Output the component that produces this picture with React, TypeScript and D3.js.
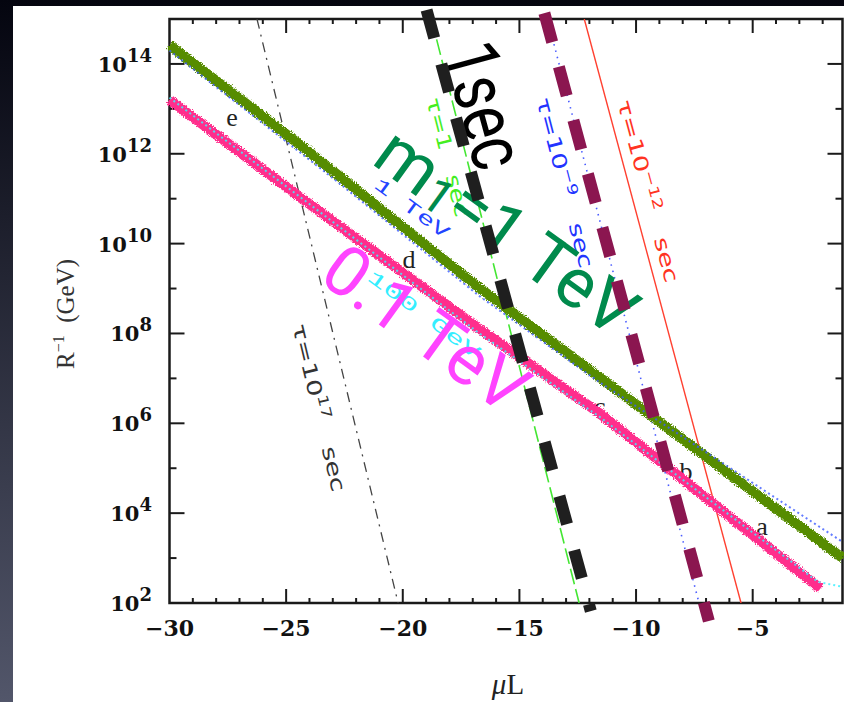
import React, { useEffect, useRef } from 'react';
import * as d3 from 'd3';

// axis ticks
const xTickValues = [-30, -25, -20, -15, -10, -5];
const yTickExps = [2, 4, 6, 8, 10, 12, 14];

// curves as [muL, log10(R^-1 / GeV)]
const band1TeV = [[-30, 14.42], [-24.41, 12.2], [-16.71, 9.01], [-11.58, 7.03], [-1.15, 3.0]];
const band100GeV = [[-30, 13.2], [-24.41, 11.04], [-16.71, 8.1], [-11.58, 6.23], [-2.1, 2.32]];
const dots1TeV = [[-30, 14.3], [-23.1, 11.5], [-16.71, 8.83], [-11.58, 6.92], [-1.15, 3.36]];
const dots100GeV = [[-30, 13.25], [-16.71, 8.0], [-11.58, 6.15], [-2.2, 2.47], [-1.15, 2.36]];

// lifetime contours
const tau17 = [[-26.25, 15], [-20.2, 2]];
const tau1 = [[-18.77, 15], [-12.44, 2]];
const tau9 = [[-13.8, 15], [-7.3, 2]];
const tau12 = [[-12.22, 15], [-5.5, 2]];

// hand drawn overlays
const line1sec = [[-18.98, 15.2], [-11.94, 1.82]];
const lineMaroon = [[-13.93, 15.13], [-6.88, 1.6]];

// region letters
const regionNames = ['a', 'b', 'c', 'd', 'e'];
const regionMuL = [-4.6, -7.86, -11.55, -19.73, -27.32];
const regionExp = [3.69, 4.92, 6.36, 9.64, 12.8];

const W = 844, H = 702;

export default function App() {
  const ref = useRef<SVGSVGElement>(null);

  useEffect(() => {
    const svg = d3.select(ref.current);
    svg.selectAll('*').remove();

    const x = d3.scaleLinear().domain([-30, -1.15]).range([169.5, 842.5]);
    const y = d3.scaleLog().domain([1e2, 1e15]).range([603, 19]);
    const px = (d: number[]) => x(d[0]);
    const py = (d: number[]) => y(Math.pow(10, d[1]));
    const line = d3.line<number[]>().x(px).y(py);
    const angleOf = (pts: number[][]) => {
      const a = pts[0], b = pts[pts.length - 1];
      return Math.atan2(py(b) - py(a), px(b) - px(a)) * 180 / Math.PI;
    };
    const at = (mu: number, e: number) => `translate(${x(mu)},${y(Math.pow(10, e))})`;

    const defs = svg.append('defs');
    const grad = defs.append('linearGradient').attr('id', 'bg')
      .attr('x1', 0).attr('y1', 0).attr('x2', 0).attr('y2', 1);
    grad.append('stop').attr('offset', '0%').attr('stop-color', '#04050f');
    grad.append('stop').attr('offset', '100%').attr('stop-color', '#52566a');

    const filt = defs.append('filter').attr('id', 'rough')
      .attr('x', '-5%').attr('y', '-5%').attr('width', '110%').attr('height', '110%');
    filt.append('feTurbulence').attr('type', 'fractalNoise').attr('baseFrequency', 0.9)
      .attr('numOctaves', 2).attr('seed', 4).attr('result', 'noise');
    filt.append('feDisplacementMap').attr('in', 'SourceGraphic').attr('in2', 'noise')
      .attr('scale', 5).attr('xChannelSelector', 'R').attr('yChannelSelector', 'G');

    defs.append('clipPath').attr('id', 'plot').append('rect')
      .attr('x', 169.5).attr('y', 19).attr('width', 673).attr('height', 584);

    // slide background + white picture
    svg.append('rect').attr('width', W).attr('height', H).attr('fill', 'url(#bg)');
    svg.append('rect').attr('x', 13).attr('y', 6).attr('width', W - 13).attr('height', H - 6).attr('fill', '#fff');

    // frame
    svg.append('rect').attr('x', 169.5).attr('y', 19).attr('width', 673).attr('height', 584)
      .attr('fill', 'none').attr('stroke', '#1a1a1a').attr('stroke-width', 2.5);

    const ticks = svg.append('g').attr('stroke', '#1a1a1a').attr('stroke-width', 2);
    d3.range(-29, -1).forEach(v => {
      const len = v % 5 === 0 ? 14 : 5;
      ticks.append('line').attr('x1', x(v)).attr('x2', x(v)).attr('y1', 603).attr('y2', 603 - len);
      ticks.append('line').attr('x1', x(v)).attr('x2', x(v)).attr('y1', 19).attr('y2', 19 + len);
    });
    d3.range(3, 15).forEach(e => {
      const len = e % 2 === 0 ? 15 : 7;
      const yy = y(Math.pow(10, e));
      ticks.append('line').attr('x1', 169.5).attr('x2', 169.5 + len).attr('y1', yy).attr('y2', yy);
      ticks.append('line').attr('x1', 842.5).attr('x2', 842.5 - len).attr('y1', yy).attr('y2', yy);
    });

    // tick labels
    svg.append('g').selectAll('text').data(xTickValues).enter().append('text')
      .attr('x', d => x(d)).attr('y', 636).attr('text-anchor', 'middle')
      .attr('font-family', 'DejaVu Serif').attr('font-weight', 'bold').attr('font-size', 22)
      .attr('fill', '#111').text(d => '\u2212' + Math.abs(d));

    yTickExps.forEach(e => {
      const t = svg.append('text').attr('x', 152).attr('y', y(Math.pow(10, e)) + 8)
        .attr('text-anchor', 'end').attr('font-family', 'DejaVu Serif').attr('font-weight', 'bold')
        .attr('font-size', 21).attr('fill', '#111');
      t.append('tspan').text('10');
      t.append('tspan').attr('dy', -10).attr('font-size', 18).text(String(e));
    });

    // axis titles
    const xt = svg.append('text').attr('x', 508).attr('y', 694).attr('text-anchor', 'middle')
      .attr('font-family', 'Liberation Serif').attr('font-size', 29).attr('fill', '#222');
    xt.append('tspan').attr('font-style', 'italic').text('\u03bc');
    xt.append('tspan').text('L');

    const yt = svg.append('text').attr('transform', 'translate(74,314) rotate(-90)')
      .attr('text-anchor', 'middle').attr('font-family', 'Liberation Serif').attr('font-size', 25)
      .attr('fill', '#333');
    yt.append('tspan').text('R');
    yt.append('tspan').attr('dy', -10).attr('font-size', 16).text('\u22121');
    yt.append('tspan').attr('dy', 10).text('\u2002(GeV)');

    // lifetime contours
    const plot = svg.append('g').attr('clip-path', 'url(#plot)').attr('fill', 'none');
    plot.append('path').attr('d', line(tau17)).attr('stroke', '#444').attr('stroke-width', 1.3)
      .attr('stroke-dasharray', '10,6,2,6');
    plot.append('path').attr('d', line(tau1)).attr('stroke', '#44e633').attr('stroke-width', 1.6)
      .attr('stroke-dasharray', '16,5');
    plot.append('path').attr('d', line(tau9)).attr('stroke', '#4a5cff').attr('stroke-width', 1.6)
      .attr('stroke-dasharray', '1.5,5');
    plot.append('path').attr('d', line(tau12)).attr('stroke', '#ff4030').attr('stroke-width', 1.4);

    const tauLabel = (mu: number, e: number, ang: number, base: string, sup: string, color: string, len: number) => {
      const t = svg.append('text').attr('transform', `${at(mu, e)} rotate(${ang})`)
        .attr('font-family', 'DejaVu Sans').attr('font-size', 20).attr('fill', color)
        .attr('textLength', len).attr('lengthAdjust', 'spacingAndGlyphs');
      t.append('tspan').text(base);
      if (sup) {
        t.append('tspan').attr('dy', -8).attr('font-size', 14).text(sup);
        t.append('tspan').attr('dy', 8).text('\u2003sec');
      } else {
        t.append('tspan').text('\u2003sec');
      }
    };
    tauLabel(-24.75, 8.17, angleOf(tau17), '\u03c4=10', '17', '#333', 172);
    tauLabel(-19.0, 13.2, angleOf(tau1), '\u03c4=1', '', '#44ee22', 122);
    tauLabel(-14.29, 13.2, angleOf(tau9), '\u03c4=10', '\u22129', '#2233ff', 175);
    tauLabel(-10.82, 13.15, angleOf(tau12), '\u03c4=10', '\u221212', '#ff3322', 188);

    // region letters
    svg.append('g').selectAll('text').data(regionNames).enter().append('text')
      .attr('x', (d, i) => x(regionMuL[i])).attr('y', (d, i) => y(Math.pow(10, regionExp[i])) + 8)
      .attr('text-anchor', 'middle').attr('font-family', 'Liberation Serif').attr('font-size', 26)
      .attr('fill', '#222').text(d => d);

    // highlighted mass bands
    const bandAngle = angleOf(band1TeV);
    svg.append('path').attr('d', line(band1TeV)).attr('fill', 'none').attr('stroke', '#568c05')
      .attr('stroke-width', 10).attr('filter', 'url(#rough)');
    svg.append('path').attr('d', line(band100GeV)).attr('fill', 'none').attr('stroke', '#ff2e8c')
      .attr('stroke-width', 10).attr('filter', 'url(#rough)');
    svg.append('path').attr('d', line(dots1TeV)).attr('fill', 'none').attr('stroke', '#3d5cff')
      .attr('stroke-width', 2).attr('stroke-dasharray', '2,3').attr('opacity', 0.8);
    svg.append('path').attr('d', line(dots100GeV)).attr('fill', 'none').attr('stroke', '#40f0ff')
      .attr('stroke-width', 2).attr('stroke-dasharray', '2,3').attr('opacity', 0.85);

    svg.append('text').attr('transform', `${at(-21.28, 11.26)} rotate(${bandAngle - 1})`)
      .attr('font-family', 'Liberation Mono').attr('font-size', 19).attr('fill', '#2244ff')
      .attr('textLength', 88).attr('lengthAdjust', 'spacingAndGlyphs').text('1 TeV');
    svg.append('text').attr('transform', `${at(-21.57, 9.2)} rotate(${bandAngle - 1})`)
      .attr('font-family', 'Liberation Mono').attr('font-size', 19).attr('fill', '#33eeff')
      .attr('textLength', 135).attr('lengthAdjust', 'spacingAndGlyphs').text('100 GeV');

    // big slide annotations
    const m1 = svg.append('text').attr('transform', `${at(-21.4, 11.8)} rotate(${bandAngle - 1.5})`)
      .attr('font-family', 'Roboto').attr('font-size', 70).attr('fill', '#008a4c');
    m1.append('tspan').text('m');
    m1.append('tspan').attr('font-size', 48).attr('dy', 4).text('1');
    m1.append('tspan').attr('dy', -4).text('=1 TeV');

    svg.append('text').attr('transform', `${at(-23.68, 9.19)} rotate(${bandAngle - 1.5})`)
      .attr('font-family', 'Roboto').attr('font-size', 70).attr('fill', '#ff44ff').text('0.1 TeV');

    svg.append('text').attr('transform', `${at(-18.3, 14.3)} rotate(${angleOf(line1sec)})`)
      .attr('font-family', 'Roboto').attr('font-size', 76).attr('fill', '#000')
      .attr('textLength', 128).attr('lengthAdjust', 'spacingAndGlyphs').text('1sec');

    svg.append('path').attr('d', line(line1sec)).attr('fill', 'none').attr('stroke', '#1f1f1f')
      .attr('stroke-width', 12).attr('stroke-dasharray', '29,27');
    svg.append('path').attr('d', line(lineMaroon)).attr('fill', 'none').attr('stroke', '#8b1650')
      .attr('stroke-width', 12).attr('stroke-dasharray', '30,25.5');
  }, []);

  return (
    <svg ref={ref} width={W} height={H}
      style={{ position: 'absolute', left: 0, top: 0, display: 'block' }} />
  );
}
